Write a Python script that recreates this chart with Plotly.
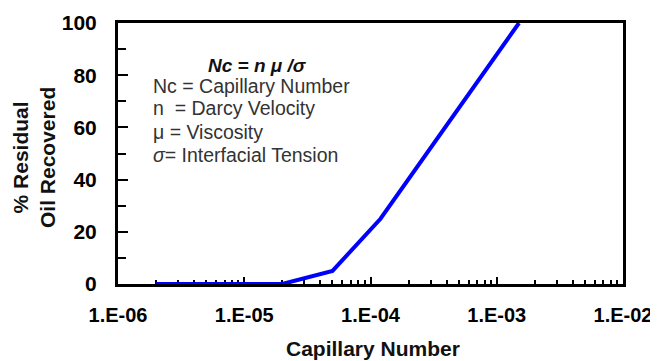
import plotly.graph_objects as go

# Data
cap_number = [2e-6, 2e-5, 5e-5, 1.2e-4, 1.5e-3]
oil_recovered = [0, 0, 5, 25, 100]

decades = [1e-6, 1e-5, 1e-4, 1e-3, 1e-2]
decade_labels = ["1.E-06", "1.E-05", "1.E-04", "1.E-03", "1.E-02"]
minor_vals = [d * k for d in decades[:-1] for k in range(2, 10)]

y_ticks = [0, 20, 40, 60, 80, 100]

legend_title = "<b><i>Nc = n μ /σ</i></b>"
legend_lines = [
    "Nc = Capillary Number",
    "n  = Darcy Velocity",
    "μ = Viscosity",
    "<i>σ</i>= Interfacial Tension",
]

FONT = "Liberation Sans, Arial, sans-serif"

# page has an 8px body margin; compensate
OFF = 8
PL, PR, PT, PB = 118, 623, 23, 284   # plot area in page pixels
W, H = 658 - OFF, 361 - OFF
L = PL - OFF
T = PT - OFF
R = W - (PR - OFF)
B = H - (PB - OFF)
pw = PR - PL
ph = PB - PT

fig = go.Figure()
fig.add_trace(go.Scatter(
    x=cap_number, y=oil_recovered, mode="lines",
    line=dict(color="#0000FF", width=4),
    cliponaxis=False, showlegend=False,
))

fig.update_layout(
    width=W, height=H,
    margin=dict(l=L, r=R, t=T, b=B, autoexpand=False),
    paper_bgcolor="white", plot_bgcolor="white",
    showlegend=False,
    font=dict(family=FONT, color="black"),
)

fig.update_xaxes(
    type="log", range=[-6, -2], automargin=False,
    showgrid=False, zeroline=False,
    showline=True, linecolor="black", linewidth=3, mirror=True,
    layer="below traces",
    tickmode="array", tickvals=decades, ticktext=decade_labels,
    ticks="inside", ticklen=7, tickwidth=2, tickcolor="black",
    tickfont=dict(family=FONT, size=20, color="black", weight="bold"),
    ticklabelstandoff=11,
    minor=dict(tickmode="array", tickvals=minor_vals, ticks="inside",
               ticklen=4, tickwidth=2, tickcolor="black", showgrid=False),
)

fig.update_yaxes(
    range=[0, 100], automargin=False,
    showgrid=False, zeroline=False,
    showline=True, linecolor="black", linewidth=3, mirror=True,
    layer="below traces",
    tickmode="array", tickvals=y_ticks,
    ticks="inside", ticklen=10, tickwidth=2, tickcolor="black",
    tickfont=dict(family=FONT, size=21, color="black", weight="bold"),
    ticklabelstandoff=14,
    minor=dict(dtick=10, ticks="inside", ticklen=8, tickwidth=2,
               tickcolor="black", showgrid=False),
)

def px_x(p):
    return (p - PL) / pw

def px_y(p):
    return (PB - p) / ph

# Axis titles
fig.add_annotation(
    text="<b>Capillary Number</b>", xref="paper", yref="paper",
    x=px_x(373), y=px_y(349), xanchor="center", yanchor="middle",
    showarrow=False, font=dict(family=FONT, size=21, color="#111"),
)
fig.add_annotation(
    text="<b>% Residual<br>Oil Recovered</b>", xref="paper", yref="paper",
    x=px_x(34), y=px_y(158), xanchor="center", yanchor="middle",
    textangle=-90, showarrow=False,
    font=dict(family=FONT, size=21, color="#111"),
)

# Text box inside the plot
fig.add_annotation(
    text=legend_title, xref="paper", yref="paper",
    x=px_x(257), y=px_y(66), xanchor="center", yanchor="middle",
    showarrow=False, font=dict(family=FONT, size=19, color="#111"),
)
line_y = [86, 108, 132, 155]
for txt, yy in zip(legend_lines, line_y):
    fig.add_annotation(
        text=txt, xref="paper", yref="paper",
        x=px_x(151), y=px_y(yy), xanchor="left", yanchor="middle",
        showarrow=False, font=dict(family=FONT, size=19.5, color="#333"),
    )

fig.write_html("out.html")
